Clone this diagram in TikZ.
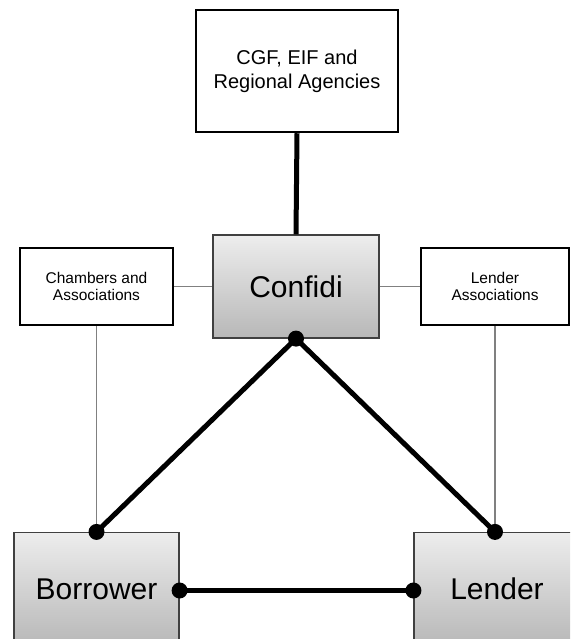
\documentclass[tikz,border=0pt]{standalone}
\usepackage{fontspec}
\setmainfont{Liberation Sans}
\begin{document}
\begin{tikzpicture}[x=1pt,y=-1pt,
  topbox/.style={draw=black,line width=2.5pt,fill=white,rectangle,inner sep=0pt,align=center,
    font=\fontsize{20}{24}\selectfont},
  sidebox/.style={draw=black,line width=2pt,fill=white,rectangle,inner sep=0pt,align=center,
    font=\fontsize{15.5}{17.5}\selectfont},
  graybox/.style={draw=black!75,line width=1.2pt,rectangle,inner sep=0pt,align=center,
    top color=black!7,bottom color=black!28,font=\fontsize{30}{34}\selectfont},
  strong/.style={line width=5pt,black},
  weak/.style={line width=1.5pt,black!50},
  dot/.style={black}
]
\useasboundingbox (0,0) rectangle (570,639);
\begin{scope}
\clip (0,0) rectangle (570,639);
\node[topbox,minimum width=202pt,minimum height=122pt] (cgf) at (297,71) {CGF, EIF and\\Regional Agencies};
\node[graybox,minimum width=166pt,minimum height=103pt] (confidi) at (296,286.5) {Confidi};
\node[sidebox,minimum width=153pt,minimum height=77pt] (chambers) at (96.5,286.5) {Chambers and\\Associations};
\node[sidebox,minimum width=148pt,minimum height=77pt] (lassoc) at (495,286.5) {Lender\\Associations};
\node[graybox,minimum width=165pt,minimum height=113pt] (borrower) at (96.5,589) {Borrower};
\node[graybox,minimum width=166pt,minimum height=113pt] (lender) at (497,589) {Lender};

\coordinate (cbot) at (confidi.south);
\coordinate (btop) at (borrower.north);
\coordinate (ltop) at (lender.north -| lassoc.south);
\coordinate (bright) at ([yshift=-1.5pt]borrower.east);
\coordinate (lleft) at ([yshift=-1.5pt]lender.west);

\draw[strong] (cgf.south) -- (confidi.north);
\draw[weak] (chambers.east) -- (confidi.west);
\draw[weak] (confidi.east) -- (lassoc.west);
\draw[weak] (chambers.south) -- (btop);
\draw[weak] (lassoc.south) -- (ltop);
\draw[strong] (cbot) -- (btop);
\draw[strong] (cbot) -- (ltop);
\draw[strong] (bright) -- (lleft);

\foreach \p in {cbot,btop,ltop,bright,lleft}
  \fill[dot] (\p) circle (8pt);
\end{scope}
\end{tikzpicture}
\end{document}
